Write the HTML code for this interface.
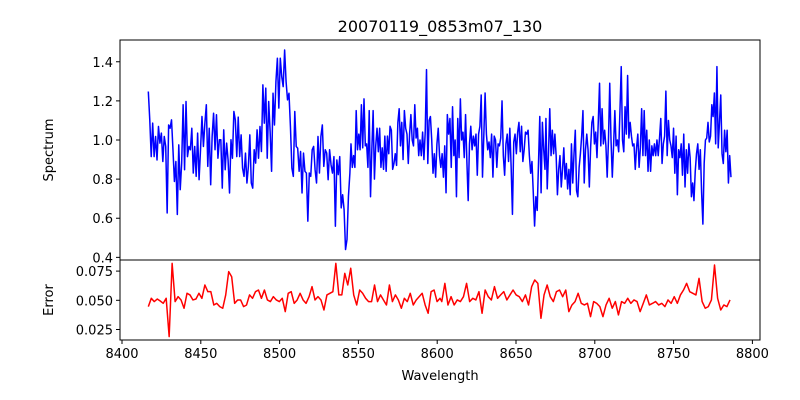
<!DOCTYPE html>
<html><head><meta charset="utf-8">
<style>
html,body{margin:0;padding:0;background:#fff;}
svg{display:block;font-family:"DejaVu Sans","Liberation Sans",sans-serif;}
</style></head>
<body>
<svg id="chart" width="800" height="400" viewBox="0 0 800 400" xmlns="http://www.w3.org/2000/svg">
<rect width="800" height="400" fill="#fff"/>
<text x="440" y="32" font-size="16" text-anchor="middle">20070119_0853m07_130</text>
<g id="top-axes"></g>
<g id="bot-axes"></g>
<text x="440" y="380" font-size="13" text-anchor="middle">Wavelength</text>
<text x="0" y="0" font-size="13" text-anchor="middle" transform="translate(53,150) rotate(-90)">Spectrum</text>
<text x="0" y="0" font-size="13" text-anchor="middle" transform="translate(53,300) rotate(-90)">Error</text>
</svg>
<script>
// ---- data ----
const xTicks = [8400,8450,8500,8550,8600,8650,8700,8750,8800];
const fluxTicks = [0.4,0.6,0.8,1.0,1.2,1.4];
const errTicks = [0.025,0.050,0.075];
const errTickLabels = ["0.025","0.050","0.075"];
const fluxSegRanges = [[8416.7,8544.6],[8545.3,8668.4],[8669.0,8786.4]];
const fluxSeg1 = [1.248,1.103,.915,1.086,.915,1.018,.898,1.069,.984,1.035,.890,1.018,.967,.627,1.077,1.060,1.103,.950,.788,.890,.619,.975,.746,.882,1.180,.848,1.197,.915,.967,.950,1.060,.831,.967,.814,1.035,.797,.950,1.120,.967,1.086,1.180,.865,1.060,.771,1.018,1.137,.950,1.129,.907,1.001,1.001,.754,1.052,.848,.984,.898,.729,1.001,.907,1.146,1.103,.915,1.117,.915,1.026,.856,.814,.933,.780,.865,1.026,.780,.754,.950,.882,1.052,.907,1.069,.941,1.282,1.086,1.265,.907,1.197,1.043,.840,1.239,1.077,1.299,1.418,1.163,1.418,1.324,1.273,1.460,1.299,1.205,1.239,1.069,.856,.814,1.146,.967,.958,.840,.941,.729,.933,.840,.831,.585,.831,.814,.950,.967,.848,.780,1.018,.831,1.018,1.077,.865,.950,.933,.797,.950,.873,.831,.915,.559,.898,.823,.915,.653,.720,.644,.440,.491,.712,.831];
const fluxSeg2 = [.98,.86,.92,.86,1.15,.95,1.03,.95,1.18,.96,1.21,.97,.98,.86,1.15,.71,.95,1.15,.80,.97,1.06,.94,1.06,.86,.96,.85,1.02,.84,1.02,.93,1.07,1.05,.85,.88,.93,.87,1.09,1.16,.97,1.09,.90,1.15,1.06,1.03,.88,1.03,1.13,1.00,.97,1.18,1.01,1.06,.92,1.00,.92,1.04,.90,1.04,1.36,.88,1.10,1.12,1.00,.83,.93,.81,.98,1.06,.92,.86,.93,.81,.97,.73,1.13,1.03,1.11,.86,1.17,.92,1.00,.71,1.11,.91,1.21,1.00,1.04,.91,1.13,.89,.69,.98,1.07,.95,1.02,.97,1.03,.82,1.03,1.07,1.23,.81,1.02,1.24,1.03,.95,.99,.91,1.03,.81,1.02,1.00,.86,.98,.97,1.01,1.20,.92,.82,.98,1.03,.89,1.06,.86,.62,.99,1.03,.93,1.04,1.09,.94,1.07,.89,.95,1.04,1.03,1.05,.92,.83,.89,.73,.56,.71,.64,.88,1.12,.73,1.09,.95,.85];
const fluxSeg3 = [1.11,.75,.93,1.16,.92,1.05,.93,1.03,.92,.72,.85,.92,.76,.85,.96,.80,.88,.75,.85,.72,.98,.78,.93,1.05,.74,.71,.86,.93,1.02,1.15,.78,.95,1.03,.95,.76,.96,1.09,1.12,.98,1.04,.91,1.09,1.29,.97,1.16,.98,1.05,.97,.81,1.00,1.29,1.00,.81,.97,1.15,.97,1.00,.94,1.15,1.375,1.00,.94,1.17,1.03,1.33,1.01,1.09,1.02,.97,.98,.85,.96,1.03,.86,.96,1.16,.92,1.15,.92,1.05,.84,1.00,.84,.97,.92,.98,.92,1.00,.92,1.01,1.11,.88,.98,1.02,1.25,.92,1.10,1.00,.97,.91,1.06,.83,1.02,.72,.95,.91,.98,.82,1.03,.76,.95,.83,.98,.91,.71,.78,.69,.84,.93,.98,.85,.95,.73,.57,.88,1.00,1.01,1.09,.99,1.02,1.18,1.12,1.24,.98,1.375,.96,1.09,1.23,.93,.88,1.05,.94,1.05,.78,.92,.81];
const errSegRanges = [[8416.7,8601.8],[8602.9,8785.8]];
const errSeg1 = [.0446,.0517,.0489,.0511,.0494,.0474,.0517,.0189,.0816,.0489,.0531,.0503,.0432,.0560,.0546,.0503,.0511,.0560,.0517,.0631,.0574,.0574,.0460,.0474,.0446,.0432,.0546,.0745,.0702,.0474,.0503,.0503,.0446,.0460,.0546,.0517,.0574,.0588,.0517,.0588,.0503,.0489,.0531,.0503,.0489,.0517,.0403,.0560,.0574,.0474,.0503,.0560,.0503,.0474,.0531,.0617,.0503,.0531,.0503,.0417,.0546,.0560,.0574,.0816,.0546,.0546,.0731,.0631,.0774,.0546,.0460,.0588,.0560,.0517,.0489,.0489,.0631,.0489,.0546,.0503,.0460,.0631,.0489,.0546,.0503,.0432,.0517,.0489,.0560,.0460,.0503,.0531,.0560,.0460,.0389,.0574,.0588,.0489,.0517];
const errSeg2 = [.0489,.0645,.0460,.0531,.0460,.0503,.0489,.0531,.0645,.0489,.0517,.0503,.0574,.0389,.0588,.0531,.0503,.0617,.0517,.0546,.0574,.0503,.0546,.0588,.0546,.0531,.0489,.0546,.0460,.0617,.0674,.0645,.0346,.0546,.0631,.0531,.0489,.0574,.0588,.0531,.0588,.0403,.0460,.0489,.0560,.0474,.0460,.0474,.0360,.0489,.0474,.0446,.0360,.0460,.0517,.0432,.0489,.0375,.0489,.0474,.0517,.0474,.0503,.0489,.0403,.0474,.0546,.0460,.0474,.0489,.0460,.0474,.0446,.0503,.0474,.0531,.0474,.0546,.0588,.0645,.0574,.0560,.0546,.0688,.0489,.0432,.0446,.0503,.0802,.0517,.0417,.0460,.0446,.0503];

// ---- layout / scales ----
const NS = "http://www.w3.org/2000/svg";
const L = 120, R = 760, T = 40, MID = 260, B = 340;
const xScale = w => 122 + (w - 8400) * 1.576;
const yTop = v => 140 - (v - 1) * 195.6;
const yBot = v => 300.3 - (v - 0.05) * 1168;
function mk(tag, attrs, parent){ const e=document.createElementNS(NS,tag); for(const k in attrs) e.setAttribute(k,attrs[k]); parent.appendChild(e); return e; }
function segPoints(ranges, segs){
  const pts=[];
  segs.forEach((s,i)=>{ const [a,b]=ranges[i]; const n=s.length;
    s.forEach((v,j)=>{ pts.push([a+(b-a)*(n>1?j/(n-1):0), v]); }); });
  return pts;
}
const topG = document.getElementById('top-axes');
const botG = document.getElementById('bot-axes');

const fPts = segPoints(fluxSegRanges,[fluxSeg1,fluxSeg2,fluxSeg3]);
const fl = mk('polyline',{points:fPts.map(p=>xScale(p[0]).toFixed(2)+','+yTop(p[1]).toFixed(2)).join(' '),fill:'none',stroke:'#0000ff','stroke-width':1.5,'stroke-linejoin':'round'},topG);



const ePts = segPoints(errSegRanges,[errSeg1,errSeg2]);
const el = mk('polyline',{points:ePts.map(p=>xScale(p[0]).toFixed(2)+','+yBot(p[1]).toFixed(2)).join(' '),fill:'none',stroke:'#ff0000','stroke-width':1.5,'stroke-linejoin':'round'},botG);



const f1 = mk('rect',{x:L,y:T,width:R-L,height:MID-T,fill:'none',stroke:'#000','stroke-width':1},topG);


const f2 = mk('rect',{x:L,y:MID,width:R-L,height:B-MID,fill:'none',stroke:'#000','stroke-width':1},botG);



xTicks.forEach(t=>{
  const x=xScale(t);
  const tk=mk('line',{x1:x,x2:x,y1:B,y2:B+4,stroke:'#000','stroke-width':1},botG);
  
  
  const lb=mk('text',{x:x,y:B+18,'font-size':13,'text-anchor':'middle'},botG);
  lb.textContent=String(t);
  
  
});
fluxTicks.forEach(t=>{
  const y=yTop(t);
  const tk=mk('line',{x1:L-4,x2:L,y1:y,y2:y,stroke:'#000','stroke-width':1},topG);
  
  
  const lb=mk('text',{x:L-7,y:y+5,'font-size':13,'text-anchor':'end'},topG);
  lb.textContent=t.toFixed(1);
  
  
});
errTicks.forEach((t,i)=>{
  const y=yBot(t);
  const tk=mk('line',{x1:L-4,x2:L,y1:y,y2:y,stroke:'#000','stroke-width':1},botG);
  
  
  const lb=mk('text',{x:L-7,y:y+5,'font-size':13,'text-anchor':'end'},botG);
  lb.textContent=errTickLabels[i];
  
  
});
</script>
</body></html>
